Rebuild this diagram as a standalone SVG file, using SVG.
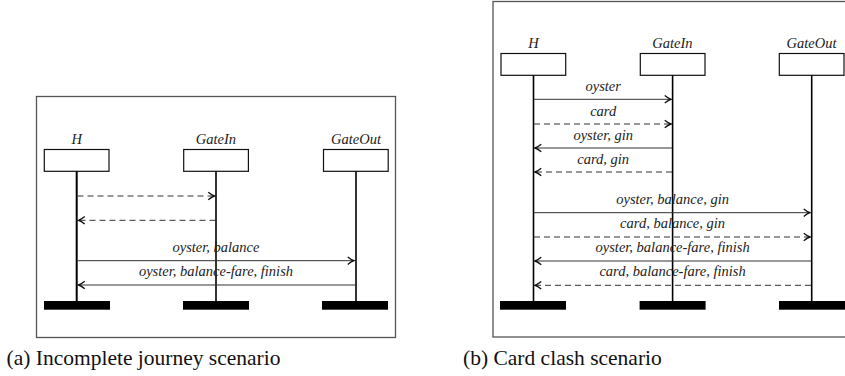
<svg xmlns="http://www.w3.org/2000/svg" width="845" height="376" viewBox="0 0 845 376">
<style>
.frame{fill:none;stroke:#555;stroke-width:1.3}
.box{fill:#fff;stroke:#111;stroke-width:1.2}
.life{stroke:#000;stroke-width:1.6}
.bar{fill:#000}
.msg{stroke:#333;stroke-width:1;fill:none;marker-end:url(#ah)}
.dash{stroke-dasharray:6 4}
.lbl{font-family:'Liberation Serif','DejaVu Serif',serif;font-style:italic;font-size:14.5px;fill:#222;text-anchor:middle}
.cap{font-family:'Liberation Serif','DejaVu Serif',serif;font-size:21.5px;fill:#111}
</style>
<defs>
<marker id="ah" markerUnits="userSpaceOnUse" markerWidth="10" markerHeight="10" viewBox="-6 -4 8 8" refX="0" refY="0" orient="auto">
<path d="M-5,-3 Q-2,-0.6 0,0 Q-2,0.6 -5,3" fill="none" stroke="#111" stroke-width="1.1"/>
</marker>
</defs>

<g id="panel-a">
<rect class="frame" x="36.5" y="96.5" width="359" height="241"/>
<g id="a-H">
<text class="lbl" x="76.7" y="143.5" font-family="Liberation Serif">H</text>
<rect class="box" x="44.3" y="149.5" width="64.7" height="21.8"/>
<line class="life" x1="76.7" y1="171.3" x2="76.7" y2="301" style="stroke-width:2"/>
<rect class="bar" x="44" y="301" width="66" height="8.7"/>
</g>
<g id="a-GateIn">
<text class="lbl" x="216" y="143.5">GateIn</text>
<rect class="box" x="183.7" y="149.5" width="64.7" height="21.8"/>
<line class="life" x1="216" y1="171.3" x2="216" y2="301"/>
<rect class="bar" x="183" y="301" width="66" height="8.7"/>
</g>
<g id="a-GateOut">
<text class="lbl" x="356" y="143.5">GateOut</text>
<rect class="box" x="323.5" y="149.5" width="64.7" height="21.8"/>
<line class="life" x1="356" y1="171.3" x2="356" y2="301"/>
<rect class="bar" x="322" y="301" width="66" height="8.7"/>
</g>
<g id="a-connectors">
<line class="msg dash" x1="77.5" y1="196" x2="214.5" y2="196"/>
<line class="msg dash" x1="215.5" y1="220.3" x2="78.5" y2="220.3"/>
<line class="msg" x1="77.5" y1="260.7" x2="354" y2="260.7"/>
<text class="lbl" x="216" y="251.5">oyster, balance</text>
<line class="msg" x1="355.5" y1="285" x2="78.5" y2="285"/>
<text class="lbl" x="216" y="275.5">oyster, balance-fare, finish</text>
</g>
</g>

<g id="panel-b">
<rect class="frame" x="493" y="1.5" width="400" height="335.5"/>
<g id="b-H">
<text class="lbl" x="533.5" y="47.5">H</text>
<rect class="box" x="501" y="53.5" width="64.7" height="21.8"/>
<line class="life" x1="533.5" y1="75.3" x2="533.5" y2="301"/>
<rect class="bar" x="500" y="301" width="66" height="8.7"/>
</g>
<g id="b-GateIn">
<text class="lbl" x="672.5" y="47.5">GateIn</text>
<rect class="box" x="640.3" y="53.5" width="64.7" height="21.8"/>
<line class="life" x1="672.6" y1="75.3" x2="672.6" y2="301"/>
<rect class="bar" x="639.6" y="301" width="66" height="8.7"/>
</g>
<g id="b-GateOut">
<text class="lbl" x="811.5" y="47.5">GateOut</text>
<rect class="box" x="779.3" y="53.5" width="64.7" height="21.8"/>
<line class="life" x1="811.7" y1="75.3" x2="811.7" y2="301"/>
<rect class="bar" x="779" y="301" width="66" height="8.7"/>
</g>
<g id="b-connectors">
<line class="msg" x1="534" y1="99.3" x2="671" y2="99.3"/>
<text class="lbl" x="603.2" y="90.8">oyster</text>
<line class="msg dash" x1="534" y1="124" x2="671" y2="124"/>
<text class="lbl" x="603.2" y="116">card</text>
<line class="msg" x1="672" y1="148" x2="535" y2="148"/>
<text class="lbl" x="603.2" y="139.5">oyster, gin</text>
<line class="msg dash" x1="672" y1="172" x2="535" y2="172"/>
<text class="lbl" x="603.2" y="163.5">card, gin</text>
<line class="msg" x1="534" y1="212.7" x2="810" y2="212.7"/>
<text class="lbl" x="672.6" y="203.8">oyster, balance, gin</text>
<line class="msg dash" x1="534" y1="237" x2="810" y2="237"/>
<text class="lbl" x="672.6" y="228">card, balance, gin</text>
<line class="msg" x1="811" y1="261" x2="535" y2="261"/>
<text class="lbl" x="672.6" y="252">oyster, balance-fare, finish</text>
<line class="msg dash" x1="811" y1="285.3" x2="535" y2="285.3"/>
<text class="lbl" x="672.6" y="276">card, balance-fare, finish</text>
</g>
</g>

<text class="cap" x="6.5" y="365">(a) Incomplete journey scenario</text>
<text class="cap" x="463" y="365">(b) Card clash scenario</text>
</svg>
